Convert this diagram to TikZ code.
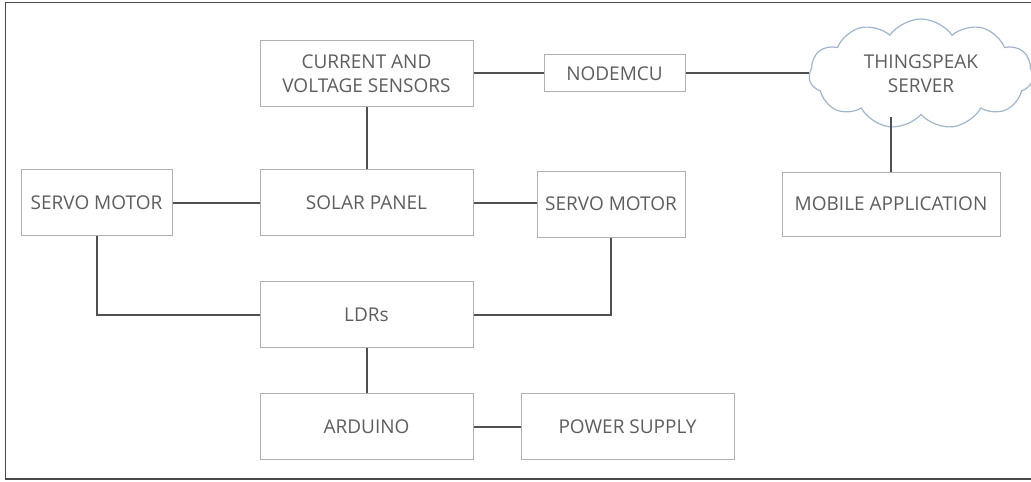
\documentclass[tikz,border=0pt]{standalone}
\usepackage{fontspec}
\setmainfont{Open Sans}
\usepackage{xcolor}
\definecolor{boxEdge}{HTML}{B0B0B0}
\definecolor{boxText}{HTML}{5E5E5E}
\definecolor{wireGray}{HTML}{505050}
\definecolor{frameGray}{HTML}{4A4A4A}
\definecolor{cloudBlue}{HTML}{9FB5CC}
\usepackage{tikz}
\usetikzlibrary{positioning,shapes.symbols}

\begin{document}
\begin{tikzpicture}[
  x=0.5pt, y=-0.5pt,
  font=\fontsize{9.5}{12}\selectfont,
  box/.style={draw=boxEdge,fill=white,line width=0.5pt,text=boxText,
              align=center,inner sep=0pt,minimum width=106.5pt,minimum height=33pt},
  smallbox/.style={box,minimum width=74pt},
  cloudbox/.style={cloud,cloud puffs=11,cloud puff arc=110,aspect=2,draw=cloudBlue,
                   line width=0.6pt,text=boxText,align=center,inner sep=0pt,
                   minimum width=112pt,minimum height=55pt},
  wire/.style={draw=wireGray,line width=1pt}
]
\useasboundingbox (0,0) rectangle (1031,481);
\clip (0,0) rectangle (1031,481);
% outer frame
\draw[frameGray,line width=0.8pt] (5.5,2.5) rectangle (1040,479);

% nodes
\node[box] (solar) at (366.5,202.5) {SOLAR PANEL};
\node[box, above=31pt of solar] (sensors) {CURRENT AND\\ VOLTAGE SENSORS};
\node[smallbox, left=43.5pt of solar, minimum width=75.5pt] (servoL) {SERVO MOTOR};
\node[smallbox, right=31.5pt of solar, yshift=-0.75pt] (servoR) {SERVO MOTOR};
\node[box, right=48pt of servoR, minimum width=109pt, minimum height=32pt] (mobile) {MOBILE APPLICATION};
\node[box, right=35pt of sensors, minimum width=70.5pt, minimum height=18.5pt] (nodemcu) {NODEMCU};
\node[cloudbox] (server) at (921,74) {THINGSPEAK\\ SERVER};
\node[box, below=22.5pt of solar] (ldr) {LDRs};
\node[box, below=22.5pt of ldr] (arduino) {ARDUINO};
\node[box, right=23.5pt of arduino] (power) {POWER SUPPLY};

% connectors
\draw[wire] (sensors) -- (nodemcu);
\draw[wire] (nodemcu.east) -- (server.west |- nodemcu.east);
\draw[wire] (sensors) -- (solar);
\draw[wire] (servoL) -- (solar);
\draw[wire] (solar) -- (servoR.west |- solar.east);
\draw[wire] (mobile.north) -- ([yshift=-1pt]mobile.north |- server.south);
\draw[wire] (servoL.south) |- (ldr.west);
\draw[wire] (servoR.south) |- (ldr.east);
\draw[wire] (ldr) -- (arduino);
\draw[wire] (arduino) -- (power);
\end{tikzpicture}
\end{document}
